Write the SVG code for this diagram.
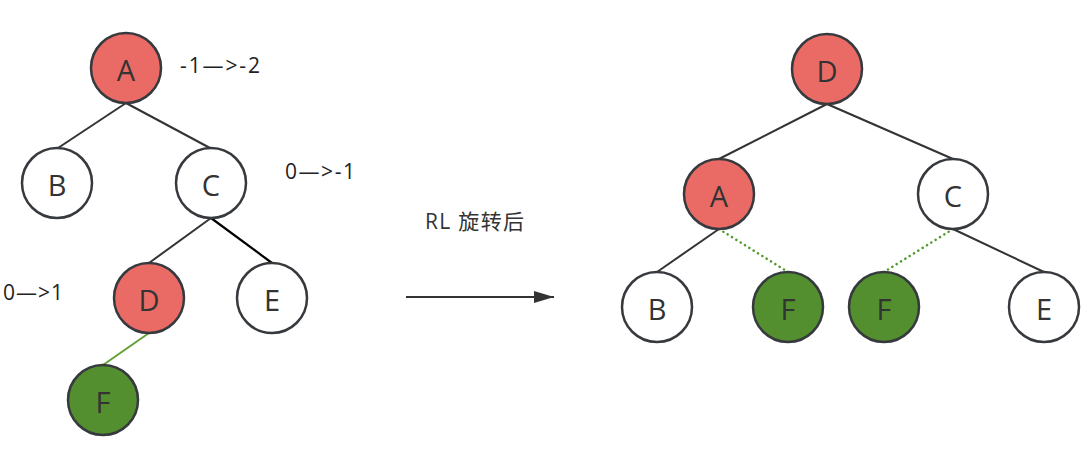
<svg xmlns="http://www.w3.org/2000/svg" width="1089" height="452" viewBox="0 0 1089 452">
  <style>
    .n circle { stroke: #36393d; stroke-width: 2.5; }
    .w circle { fill: #ffffff; }
    .r circle { fill: #ea6b66; }
    .g circle { fill: #538f2e; }
    .n text { font-family: "Open Sans", "Noto Sans", sans-serif; font-size: 29px; fill: #333333; text-anchor: middle; dominant-baseline: central; }
    .e { stroke: #333333; stroke-width: 2; fill: none; }
    .dot { stroke: #4f9a2a; stroke-width: 2.5; stroke-dasharray: 0.1 5; stroke-linecap: round; fill: none; }
    .lbl { font-family: "Open Sans", "Noto Sans", sans-serif; font-size: 21px; fill: #222222; }
  </style>
  <defs>
    <marker id="arrow" viewBox="0 0 20 12" refX="20" refY="6" markerWidth="20" markerHeight="12" markerUnits="userSpaceOnUse" orient="auto">
      <path d="M0,0 L20,6 L0,12 Z" fill="#333333"/>
    </marker>
  </defs>

  <!-- connectors -->
  <g id="connectors">
    <!-- tree before rotation -->
    <line class="e" x1="126" y1="103" x2="58" y2="148"/>
    <line class="e" x1="126" y1="103" x2="210" y2="148"/>
    <line class="e" x1="211" y1="218" x2="149" y2="263"/>
    <line x1="211" y1="218" x2="272" y2="263" stroke="#000000" stroke-width="2.2"/>
    <line x1="149" y1="333" x2="103" y2="365" stroke="#60a030" stroke-width="2"/>
    <!-- transition arrow -->
    <line class="e" x1="406" y1="297" x2="554" y2="297" marker-end="url(#arrow)"/>
    <!-- tree after rotation -->
    <line class="e" x1="827" y1="104" x2="719" y2="159"/>
    <line class="e" x1="827" y1="104" x2="953" y2="159"/>
    <line class="e" x1="719" y1="229" x2="657" y2="272"/>
    <line class="dot" x1="719" y1="229" x2="788" y2="272"/>
    <line class="dot" x1="953" y1="229" x2="884" y2="272"/>
    <line class="e" x1="953" y1="229" x2="1044" y2="272"/>
  </g>

  <!-- tree before rotation -->
  <g id="L-A" class="n r"><circle cx="126" cy="68" r="35"/><text x="126" y="69">A</text></g>
  <g id="L-B" class="n w"><circle cx="57" cy="183" r="35"/><text x="57" y="184">B</text></g>
  <g id="L-C" class="n w"><circle cx="211" cy="183" r="35"/><text x="211" y="184">C</text></g>
  <g id="L-D" class="n r"><circle cx="149" cy="298" r="35"/><text x="149" y="299">D</text></g>
  <g id="L-E" class="n w"><circle cx="272" cy="298" r="35"/><text x="272" y="299">E</text></g>
  <g id="L-F" class="n g"><circle cx="103" cy="400" r="35"/><text x="103" y="401">F</text></g>

  <!-- balance factor changes -->
  <text class="lbl" x="180" y="73" textLength="80" lengthAdjust="spacing">-1—&gt;-2</text>
  <text class="lbl" x="285" y="179" textLength="70" lengthAdjust="spacing">0—&gt;-1</text>
  <text class="lbl" x="3" y="300" textLength="60" lengthAdjust="spacing">0—&gt;1</text>

  <!-- transition caption -->
  <text x="425" y="229" font-family="'Open Sans', 'Noto Sans CJK SC', sans-serif" font-size="21" fill="#333333" textLength="99" lengthAdjust="spacing">RL 旋转后</text>

  <!-- tree after rotation -->
  <g id="R-D" class="n r"><circle cx="827" cy="69" r="35"/><text x="827" y="70">D</text></g>
  <g id="R-A" class="n r"><circle cx="719" cy="194" r="35"/><text x="719" y="195">A</text></g>
  <g id="R-C" class="n w"><circle cx="953" cy="194" r="35"/><text x="953" y="195">C</text></g>
  <g id="R-B" class="n w"><circle cx="657" cy="307" r="35"/><text x="657" y="308">B</text></g>
  <g id="R-F1" class="n g"><circle cx="788" cy="307" r="35"/><text x="788" y="308">F</text></g>
  <g id="R-F2" class="n g"><circle cx="884" cy="307" r="35"/><text x="884" y="308">F</text></g>
  <g id="R-E" class="n w"><circle cx="1044" cy="307" r="35"/><text x="1044" y="308">E</text></g>
</svg>
